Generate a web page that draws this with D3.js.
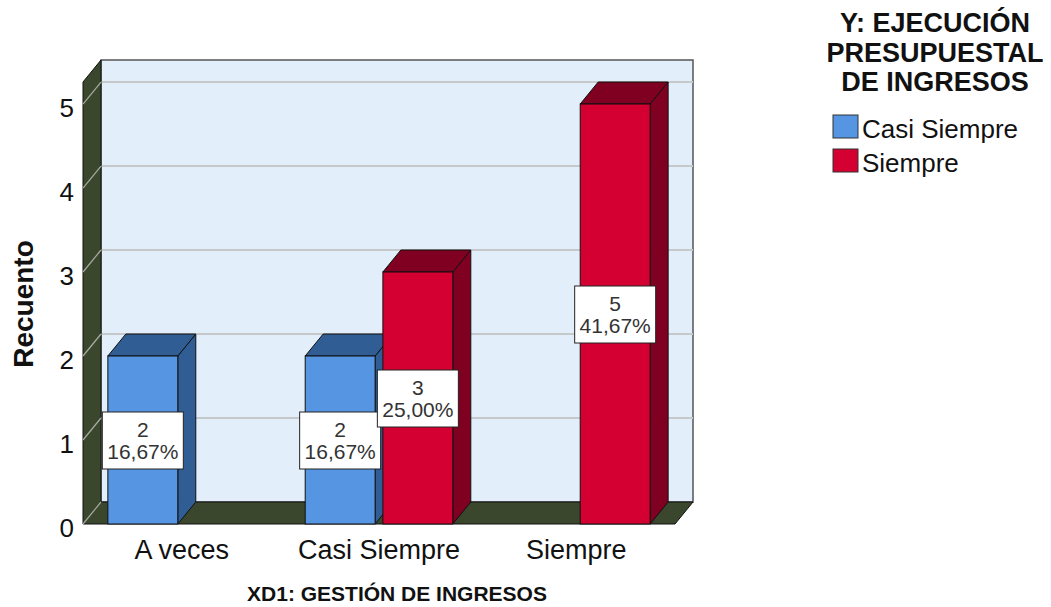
<!DOCTYPE html>
<html>
<head>
<meta charset="utf-8">
<script src="https://cdn.jsdelivr.net/npm/d3@7"></script>
<style>
  body { margin: 0; background: #fff; }
  text { font-family: "Liberation Sans", Arial, sans-serif; }
</style>
</head>
<body>
<div id="chart"></div>
<script>

// data
var categories = ["A veces", "Casi Siempre", "Siempre"];
var seriesNames = ["Casi Siempre", "Siempre"];
var casiSiempreCounts = [2, 2, 0];
var siempreCounts = [0, 3, 5];
var yTicks = [0, 1, 2, 3, 4, 5];
var legendTitle = ["Y: EJECUCIÓN", "PRESUPUESTAL", "DE INGRESOS"];
var xTitle = "XD1: GESTIÓN DE INGRESOS";
var yTitle = "Recuento";

var seriesColors = {
  "Casi Siempre": { front: "#5595e2", dark: "#305e94" },
  "Siempre": { front: "#d50032", dark: "#7f0021" }
};

var width = 1051, height = 607;
var dx = 18, dy = 22; // 3d depth offset
var yMax = 5.262;

var svg = d3.select("#chart").append("svg")
  .attr("width", width)
  .attr("height", height);

var x = d3.scaleBand().domain(categories).range([83, 675]);
var xs = d3.scaleBand().domain(seriesNames).range([0, x.bandwidth()])
  .paddingInner(0.1).paddingOuter(0.32);
var y = d3.scaleLinear().domain([0, yMax]).range([524, 82]);

var left = x.range()[0], right = x.range()[1];
var y0 = y(0), yTop = y(yMax);

function pts(arr) { return arr.map(function(p) { return p.join(","); }).join(" "); }

// back wall
svg.append("rect")
  .attr("x", left + dx).attr("y", yTop - dy)
  .attr("width", right - left).attr("height", y0 - yTop)
  .style("fill", "#e2eefa")
  .style("stroke", "#555").style("stroke-width", 1.5);

// gridlines on back wall
svg.append("g").selectAll("line")
  .data(yTicks.filter(function(d) { return d > 0; }))
  .enter().append("line")
  .attr("x1", left + dx).attr("x2", right + dx)
  .attr("y1", function(d) { return y(d) - dy; })
  .attr("y2", function(d) { return y(d) - dy; })
  .style("stroke", "#c6c9cc").style("stroke-width", 2);

// left side wall
svg.append("polygon")
  .attr("points", pts([[left, yTop], [left + dx, yTop - dy], [left + dx, y0 - dy], [left, y0]]))
  .style("fill", "#3a472c").style("stroke", "#111").style("stroke-width", 1);

// floor
svg.append("polygon")
  .attr("points", pts([[left, y0], [right, y0], [right + dx, y0 - dy], [left + dx, y0 - dy]]))
  .style("fill", "#3a472c").style("stroke", "#111").style("stroke-width", 1);

// diagonal gridlines on side wall
svg.append("g").selectAll("line")
  .data(yTicks)
  .enter().append("line")
  .attr("x1", left).attr("x2", left + dx)
  .attr("y1", function(d) { return y(d); })
  .attr("y2", function(d) { return y(d) - dy; })
  .style("stroke", "#a8aca4").style("stroke-width", 1.2);

// bars
var bars = [];
categories.forEach(function(c, i) {
  bars.push({ cat: c, series: "Casi Siempre", value: casiSiempreCounts[i] });
  bars.push({ cat: c, series: "Siempre", value: siempreCounts[i] });
});
bars = bars.filter(function(d) { return d.value > 0; });
var total = d3.sum(casiSiempreCounts) + d3.sum(siempreCounts);

var bar = svg.append("g").selectAll("g")
  .data(bars)
  .enter().append("g");

bar.each(function(d) {
  var g = d3.select(this);
  var bx = x(d.cat) + xs(d.series), bw = xs.bandwidth();
  var by = y(d.value);
  var col = seriesColors[d.series];
  g.append("polygon") // side
    .attr("points", pts([[bx + bw, by], [bx + bw + dx, by - dy], [bx + bw + dx, y0 - dy], [bx + bw, y0]]))
    .style("fill", col.dark).style("stroke", "#111").style("stroke-width", 1);
  g.append("polygon") // top
    .attr("points", pts([[bx, by], [bx + dx, by - dy], [bx + bw + dx, by - dy], [bx + bw, by]]))
    .style("fill", col.dark).style("stroke", "#111").style("stroke-width", 1);
  g.append("rect") // front
    .attr("x", bx).attr("y", by)
    .attr("width", bw).attr("height", y0 - by)
    .style("fill", col.front).style("stroke", "#111").style("stroke-width", 1);
});

// value labels
var pctFormat = d3.formatLocale({ decimal: ",", thousands: ".", grouping: [3], currency: ["", ""] }).format(".2f");

var label = svg.append("g").selectAll("g")
  .data(bars)
  .enter().append("g")
  .attr("transform", function(d) {
    var cx = x(d.cat) + xs(d.series) + xs.bandwidth() / 2;
    var cy = (y(0) + y(d.value)) / 2;
    return "translate(" + cx + "," + cy + ")";
  });

label.append("rect")
  .attr("x", -40.5).attr("y", -28)
  .attr("width", 81).attr("height", 57)
  .style("fill", "#fff").style("stroke", "#222").style("stroke-width", 1);

label.append("text")
  .attr("text-anchor", "middle")
  .attr("y", -3)
  .style("font-size", "21px").style("fill", "#333")
  .text(function(d) { return d.value; });

label.append("text")
  .attr("text-anchor", "middle")
  .attr("y", 19)
  .style("font-size", "21px").style("fill", "#333")
  .text(function(d) { return pctFormat(d.value / total * 100) + "%"; });

// y axis
var yAxis = svg.append("g")
  .attr("transform", "translate(" + left + ",4)")
  .call(d3.axisLeft(y).tickValues(yTicks).tickSize(0).tickPadding(9).tickFormat(d3.format("d")));
yAxis.select(".domain").remove();
yAxis.selectAll("text")
  .style("font-size", "26px").style("fill", "#111")
  .style("font-family", "'Liberation Sans', Arial, sans-serif");

// x axis labels
svg.append("g").selectAll("text")
  .data(categories)
  .enter().append("text")
  .attr("x", function(d) { return x(d) + x.bandwidth() / 2; })
  .attr("y", 559)
  .attr("text-anchor", "middle")
  .style("font-size", "27px").style("fill", "#111")
  .text(function(d) { return d; });

svg.append("text")
  .attr("x", 397).attr("y", 601)
  .attr("text-anchor", "middle")
  .style("font-size", "21px").style("font-weight", "bold").style("fill", "#111")
  .text(xTitle);

svg.append("text")
  .attr("transform", "translate(33,304) rotate(-90)")
  .attr("text-anchor", "middle")
  .style("font-size", "28px").style("font-weight", "bold").style("fill", "#111")
  .text(yTitle);

// legend
var legend = svg.append("g");
legend.selectAll("text.title")
  .data(legendTitle)
  .enter().append("text")
  .attr("class", "title")
  .attr("x", 935)
  .attr("y", function(d, i) { return 32 + i * 29.5; })
  .attr("text-anchor", "middle")
  .style("font-size", "27px").style("font-weight", "bold").style("fill", "#111")
  .text(function(d) { return d; });

var item = legend.selectAll("g.item")
  .data(seriesNames)
  .enter().append("g")
  .attr("class", "item")
  .attr("transform", function(d, i) { return "translate(833," + (115 + i * 34) + ")"; });

item.append("rect")
  .attr("width", 25).attr("height", 23)
  .style("fill", function(d) { return seriesColors[d].front; })
  .style("stroke", "#333").style("stroke-width", 1);

item.append("text")
  .attr("x", 29).attr("y", 23)
  .style("font-size", "26px").style("fill", "#111")
  .text(function(d) { return d; });

</script>
</body>
</html>
